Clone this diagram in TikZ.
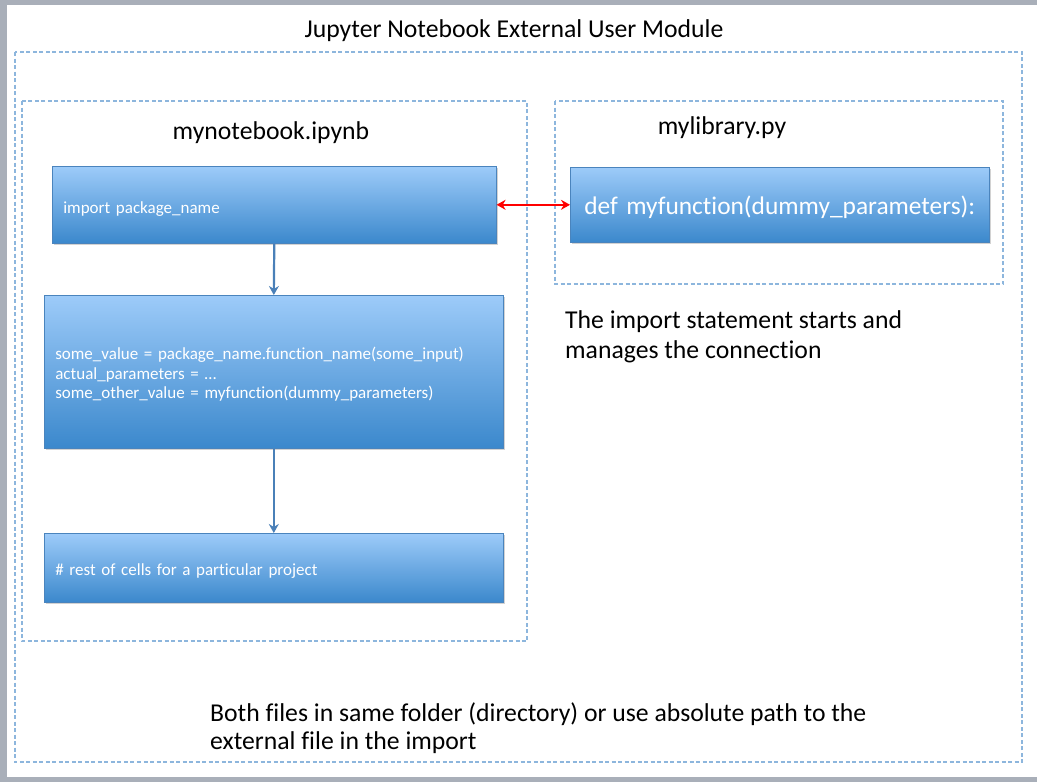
\documentclass[tikz,border=0pt]{standalone}
\usepackage{fontspec}
\setmainfont{Carlito}[Ligatures=NoCommon]
\usetikzlibrary{shadows,arrows.meta}
\definecolor{frame}{HTML}{A9AFB9}
\definecolor{dashblue}{HTML}{8DB6DD}
\definecolor{celltop}{HTML}{9DCBF9}
\definecolor{cellbot}{HTML}{3B88CC}
\definecolor{cellline}{HTML}{4A84BD}
\definecolor{flowarrow}{HTML}{4A80B8}
\tikzset{
  x=1pt,y=-1pt,
  dashbox/.style={draw=dashblue,line width=1.1pt,dash pattern=on 4pt off 2.5pt},
  cell/.style={draw=cellline,line width=0.6pt,top color=celltop,bottom color=cellbot,
    drop shadow={opacity=0.35,shadow xshift=1.5pt,shadow yshift=-2pt},
    text=white,anchor=north west,inner ysep=0pt,inner xsep=11pt,align=left,
    font=\fontsize{17}{19.5}\selectfont},
  toppad/.style={execute at begin node={\rule{0pt}{#1}}},
  heading/.style={font=\fontsize{25.7}{30}\selectfont,inner sep=0pt},
  flow/.style={draw=flowarrow,line width=2.2pt,-{Stealth[length=9pt,width=10pt]}},
  link/.style={draw=red,line width=2.2pt,{Stealth[length=9pt,width=10pt]}-{Stealth[length=9pt,width=10pt]}},
}
\begin{document}
\begin{tikzpicture}
\useasboundingbox (0,0) rectangle (1037,782);
\fill[frame] (0,0) rectangle (1037,782);
\fill[white] (7,5) rectangle (1037,777);
% dashed containers
\draw[dashbox] (15,52) rectangle (1022,762);
\draw[dashbox] (22,101) rectangle (527,641);
\draw[dashbox] (555,101) rectangle (1003,284);
% headings
\node[heading,anchor=base] (title) at (514,37) {Jupyter Notebook External User Module};
\node[heading,anchor=base] (nb) at (271,139) {mynotebook.ipynb};
\node[heading,anchor=base] (lib) at (722,134) {mylibrary.py};
% cells
\node[cell,toppad=20pt,minimum width=444pt,minimum height=77pt,text width=422pt] (imp) at (52,166) {import package\_name};
\node[cell,toppad=18pt,minimum width=459pt,minimum height=153pt,text width=437pt] (body) at (44,295)
  {some\_value = package\_name.function\_name(some\_input)\\
   actual\_parameters = …\\
   some\_other\_value = myfunction(dummy\_parameters)};
\node[cell,toppad=19pt,minimum width=459pt,minimum height=69pt,text width=437pt] (rest) at (44,533) {\# rest of cells for a particular project};
\node[cell,toppad=24pt,minimum width=419pt,minimum height=75pt,align=center,text width=397pt,font=\fontsize{25.4}{30}\selectfont] (func) at (570,167) {def myfunction(dummy\_parameters):};
% connectors
\draw[flow] (imp.south) -- (body.north);
\draw[flow] (body.south) -- (rest.north);
\draw[link] (imp.east) -- (func.west);
% notes
\node[heading,anchor=base west,align=left,font=\fontsize{25.7}{30}\selectfont] (note1) at (565,358)
  {The import statement starts and\\ manages the connection};
\node[heading,anchor=base west,align=left,font=\fontsize{25.7}{28}\selectfont] (note2) at (210,749)
  {Both files in same folder (directory) or use absolute path to the\\ external file in the import};
\end{tikzpicture}
\end{document}
